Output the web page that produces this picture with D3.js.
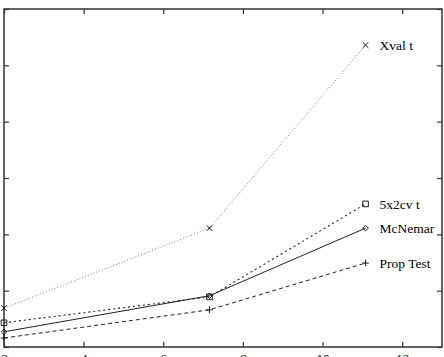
<!DOCTYPE html>
<html>
<head>
<meta charset="utf-8">
<script src="https://cdn.jsdelivr.net/npm/d3@7"></script>
<style>
  body { margin: 0; background: #fff; }
  svg { display: block; }
  .axis path { display: none; }
  .axis line { stroke: #333; stroke-width: 1.2; }
  .axis text { font-family: "Liberation Serif", "DejaVu Serif", serif; font-size: 13px; fill: #000; }
  .lbl { font-family: "Liberation Serif", "DejaVu Serif", serif; font-size: 13.5px; fill: #000; }
</style>
</head>
<body>
<div id="chart"></div>
<script>
var svgWidth = 444;
var svgHeight = 357;

var margin = { top: 9, right: 2, bottom: 10, left: 4 };
var width = svgWidth - margin.left - margin.right;
var height = svgHeight - margin.top - margin.bottom;

// data
var xValues = [0, 2.58, 4.54];
var seriesNames = ["Xval t", "5x2cv t", "McNemar", "Prop Test"];
var xvalT = [0.69, 2.11, 5.36];
var cv5x2T = [0.43, 0.89, 2.54];
var mcnemar = [0.27, 0.91, 2.11];
var propTest = [0.16, 0.66, 1.49];
var xTicks = [0, 1, 2, 3, 4, 5];
var xTickLabels = ["2", "4", "6", "8", "10", "12"];
var yTicks = [0, 1, 2, 3, 4, 5, 6];

var series = [
  { name: seriesNames[0], values: xvalT, dash: "1,2", width: 0.8, color: "#555", marker: "cross" },
  { name: seriesNames[1], values: cv5x2T, dash: "2,3", width: 1.1, color: "#222", marker: "square" },
  { name: seriesNames[2], values: mcnemar, dash: null, width: 1, color: "#222", marker: "diamond" },
  { name: seriesNames[3], values: propTest, dash: "4,3", width: 1, color: "#222", marker: "plus" }
];

var svg = d3.select("#chart")
  .append("svg")
  .attr("width", svgWidth)
  .attr("height", svgHeight);

var chartGroup = svg.append("g")
  .attr("transform", `translate(${margin.left}, ${margin.top})`);

var xScale = d3.scaleLinear().domain([0, 5.5]).range([0, width]);
var yScale = d3.scaleLinear().domain([0, 6]).range([height, 0]);

// axes, ticks point inward
chartGroup.append("g")
  .attr("class", "axis")
  .attr("transform", `translate(0, ${height})`)
  .call(d3.axisBottom(xScale).tickValues(xTicks).tickSize(-5).tickPadding(7)
    .tickFormat((d, i) => xTickLabels[i]));

chartGroup.append("g")
  .attr("class", "axis")
  .call(d3.axisTop(xScale).tickValues(xTicks).tickSize(-5).tickFormat(""));

chartGroup.append("g")
  .attr("class", "axis")
  .call(d3.axisLeft(yScale).tickValues(yTicks).tickSize(-5).tickFormat(""));

chartGroup.append("g")
  .attr("class", "axis")
  .attr("transform", `translate(${width}, 0)`)
  .call(d3.axisRight(yScale).tickValues(yTicks).tickSize(-5).tickFormat(""));

// frame
chartGroup.append("rect")
  .attr("x", 0).attr("y", 0)
  .attr("width", width).attr("height", height)
  .attr("fill", "none")
  .attr("stroke", "#333")
  .attr("stroke-width", 1.5);

var line = d3.line()
  .x((d, i) => xScale(xValues[i]))
  .y(d => yScale(d));

series.forEach(function (s) {
  chartGroup.append("path")
    .datum(s.values)
    .attr("d", line)
    .attr("fill", "none")
    .attr("stroke", s.color)
    .attr("stroke-width", s.width)
    .attr("stroke-dasharray", s.dash);

  chartGroup.selectAll(null)
    .data(s.values)
    .enter()
    .append("path")
    .attr("transform", (d, i) => `translate(${xScale(xValues[i])}, ${yScale(d)})`)
    .attr("fill", "none")
    .attr("stroke", "#000")
    .attr("stroke-width", 0.9)
    .attr("d", function () {
      var r = 2.8;
      if (s.marker == "cross") return `M${-r},${-r}L${r},${r}M${-r},${r}L${r},${-r}`;
      if (s.marker == "plus") return `M${-r - 0.5},0L${r + 0.5},0M0,${-r - 0.5}L0,${r + 0.5}`;
      if (s.marker == "square") return `M${-r},${-r}H${r}V${r}H${-r}Z`;
      return `M0,${-r}L${r},0L0,${r}L${-r},0Z`;
    });

  // label at the right end of each line
  var last = s.values.length - 1;
  chartGroup.append("text")
    .attr("class", "lbl")
    .attr("x", xScale(xValues[last]) + 14)
    .attr("y", yScale(s.values[last]))
    .attr("dy", "0.35em")
    .text(s.name);
});
</script>
</body>
</html>
